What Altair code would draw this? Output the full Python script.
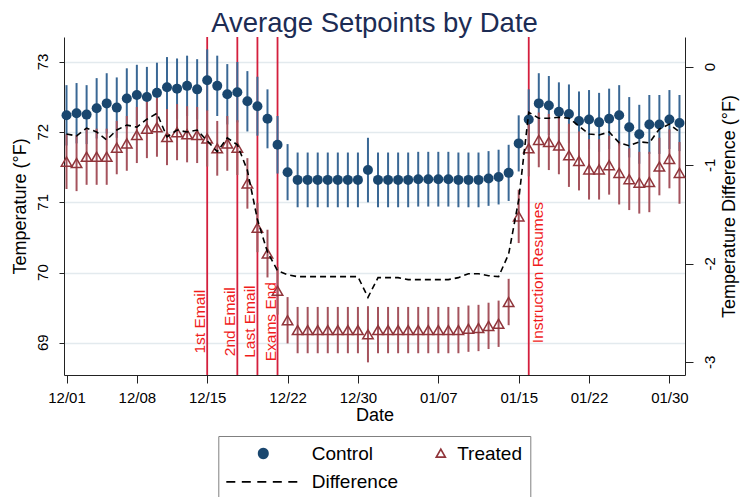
import json
import altair as alt
import pandas as pd

FONT = "Liberation Sans"

# ---------------- data ----------------
days = list(range(62))  # 0 = 12/01 ... 61 = 01/31

control_mean = [
    72.24, 72.27, 72.25, 72.34, 72.41, 72.35, 72.48, 72.53, 72.50, 72.56,
    72.64, 72.62, 72.66, 72.61, 72.74, 72.66, 72.54, 72.57, 72.44, 72.37,
    72.19, 71.82, 71.43, 71.32, 71.32, 71.32, 71.32, 71.32, 71.32, 71.32,
    71.46, 71.32, 71.32, 71.32, 71.32, 71.33, 71.33, 71.33, 71.33, 71.32,
    71.32, 71.32, 71.34, 71.36, 71.42, 71.84, 72.18, 72.41, 72.38, 72.29,
    72.26, 72.16, 72.18, 72.14, 72.19, 72.24, 72.07, 71.97, 72.11, 72.11,
    72.18, 72.13]
control_ci = [
    0.43, 0.43, 0.42, 0.43, 0.43, 0.43, 0.43, 0.43, 0.43, 0.43,
    0.43, 0.43, 0.43, 0.43, 0.44, 0.43, 0.43, 0.43, 0.43, 0.42,
    0.42, 0.41, 0.40, 0.39, 0.39, 0.39, 0.39, 0.39, 0.39, 0.39,
    0.46, 0.39, 0.39, 0.39, 0.39, 0.39, 0.39, 0.39, 0.39, 0.39,
    0.39, 0.39, 0.39, 0.39, 0.40, 0.40, 0.43, 0.43, 0.42, 0.42,
    0.42, 0.42, 0.42, 0.42, 0.43, 0.43, 0.43, 0.42, 0.42, 0.42,
    0.42, 0.40]
treated_mean = [
    71.58, 71.56, 71.65, 71.65, 71.65, 71.78, 71.84, 71.96, 72.05, 72.07,
    71.93, 72.00, 71.97, 71.96, 71.91, 71.77, 71.84, 71.78, 71.27, 70.64,
    70.27, 69.74, 69.32, 69.18, 69.18, 69.18, 69.18, 69.18, 69.18, 69.18,
    69.12, 69.18, 69.18, 69.18, 69.18, 69.18, 69.18, 69.18, 69.18, 69.18,
    69.20, 69.21, 69.24, 69.27, 69.58, 70.80, 71.77, 71.89, 71.86, 71.81,
    71.67, 71.59, 71.47, 71.47, 71.53, 71.42, 71.33, 71.28, 71.29, 71.51,
    71.62, 71.42]
treated_ci = [
    0.39, 0.40, 0.40, 0.40, 0.40, 0.38, 0.39, 0.40, 0.42, 0.42,
    0.40, 0.40, 0.40, 0.40, 0.40, 0.39, 0.39, 0.39, 0.36, 0.35,
    0.34, 0.34, 0.33, 0.33, 0.33, 0.33, 0.33, 0.33, 0.33, 0.33,
    0.40, 0.33, 0.33, 0.33, 0.33, 0.33, 0.33, 0.33, 0.33, 0.33,
    0.33, 0.33, 0.33, 0.33, 0.33, 0.38, 0.40, 0.39, 0.40, 0.41,
    0.45, 0.42, 0.43, 0.43, 0.42, 0.45, 0.44, 0.44, 0.43, 0.41,
    0.42, 0.44]
difference = [
    -0.68, -0.70, -0.62, -0.66, -0.74, -0.64, -0.59, -0.61, -0.53, -0.47,
    -0.71, -0.64, -0.66, -0.64, -0.75, -0.86, -0.72, -0.79, -1.05, -1.55,
    -1.88, -2.07, -2.11, -2.13, -2.13, -2.13, -2.13, -2.13, -2.13, -2.13,
    -2.34, -2.14, -2.14, -2.14, -2.16, -2.16, -2.16, -2.16, -2.16, -2.14,
    -2.10, -2.10, -2.12, -2.13, -1.90, -1.35, -0.46, -0.52, -0.52, -0.51,
    -0.52, -0.60, -0.68, -0.69, -0.66, -0.77, -0.80, -0.76, -0.77, -0.63,
    -0.58, -0.66]

tick_days = [0, 7, 14, 22, 29, 37, 45, 52, 60]
tick_labels = ["12/01", "12/08", "12/15", "12/22", "12/30", "01/07", "01/15", "01/22", "01/30"]

left_ticks = [69, 70, 71, 72, 73]
right_ticks = [0, -1, -2, -3]

event_days = [14, 17, 19, 21, 46]
event_labels = ["1st Email", "2nd Email", "Last Email", "Exams End", "Instruction Resumes"]
event_label_temp = [69.3, 69.3, 69.3, 69.3, 70.0]
event_side = ["left", "left", "left", "left", "right"]

series_names = ["Control", "Treated", "Difference"]

# ---------------- styles ----------------
NAVY = "#1a476f"
NAVY_BAR = "#3a6895"
MAROON = "#90353b"
MAROON_BAR = "#a5535d"
RED_LINE = "#d41f3d"
RED_TEXT = "#f01c1c"
TITLE_COL = "#1c2c54"

# legend symbols (custom paths, 6 px per unit at symbolSize 144)
circle_path = "M-1.583,0M3.667,0A0.917,0.917 0 1,0 5.5,0A0.917,0.917 0 1,0 3.667,0Z"
tri_path = "M-1.583,0M9.917,-0.717L10.667,0.617L9.167,0.617Z"
dash_path = ("M-1.583,0L-0.083,0M1,0L2.5,0M3.583,0L5.083,0"
             "M6.167,0L7.667,0M8.75,0L10.25,0")

# ---------------- tables ----------------
pts = pd.concat([
    pd.DataFrame({"day": days, "series": "Control", "mean": control_mean,
                  "lo": [m - c for m, c in zip(control_mean, control_ci)],
                  "hi": [m + c for m, c in zip(control_mean, control_ci)]}),
    pd.DataFrame({"day": days, "series": "Treated", "mean": treated_mean,
                  "lo": [m - c for m, c in zip(treated_mean, treated_ci)],
                  "hi": [m + c for m, c in zip(treated_mean, treated_ci)]}),
], ignore_index=True)
diff_df = pd.DataFrame({"day": days, "diff": difference})
events = pd.DataFrame({"day": event_days, "label": event_labels,
                       "label_temp": event_label_temp, "side": event_side})
legend_df = pd.DataFrame({"series": series_names})
left_tick_df = pd.DataFrame({"value": left_ticks, "text": [str(v) for v in left_ticks]})
right_tick_df = pd.DataFrame({"value": right_ticks, "text": [str(v) for v in right_ticks]})

# ---------------- scales / axes ----------------
XS = alt.Scale(domain=[-0.25, 61.55], nice=False, zero=False)
YL = alt.Scale(domain=[68.54, 73.356], nice=False, zero=False)
YR = alt.Scale(domain=[-3.129, 0.305], nice=False, zero=False)

label_expr = f"{json.dumps(tick_labels)}[indexof({json.dumps(tick_days)}, datum.value)]"

x_axis = alt.Axis(values=tick_days, labelExpr=label_expr, title="Date", grid=False,
                  tickSize=8, labelPadding=7.5, labelFontSize=15, labelFont=FONT,
                  labelColor="black", labelFlush=False, labelOverlap=False,
                  titleFontSize=18, titleFont=FONT, titleColor="black",
                  titleFontWeight="normal", titleY=31, titleBaseline="top",
                  domainColor="#222222", tickColor="#222222")

# tick labels of the two value axes are drawn as rotated text layers below
yl_axis = alt.Axis(orient="left", values=left_ticks, title="Temperature (°F)", grid=True,
                   gridColor="#e3eaee", gridWidth=1.3, labels=False, tickSize=5,
                   titleFontSize=18, titleFont=FONT, titleColor="black",
                   titleFontWeight="normal", titleAngle=270,
                   titleBaseline="alphabetic", titleX=-38.4,
                   domainColor="#222222", tickColor="#222222")

yr_axis = alt.Axis(orient="right", values=right_ticks,
                   title="Temperature Difference (°F)", grid=False, labels=False,
                   tickSize=8, titleFontSize=18, titleFont=FONT,
                   titleColor="black", titleFontWeight="normal", titleAngle=270,
                   titleBaseline="top", titleX=35.7,
                   domainColor="#222222", tickColor="#222222")

legend = alt.Legend(title=None, orient="none", legendX=154.3, legendY=399,
                    direction="horizontal", columns=2, gridAlign="none",
                    columnPadding=-30.5, rowPadding=8.3,
                    padding=8, strokeColor="#808080", fillColor="white",
                    cornerRadius=0, symbolSize=144, symbolStrokeWidth=1.7,
                    symbolOpacity=1, symbolFillColor="transparent",
                    symbolStrokeColor="transparent", labelFont=FONT,
                    labelFontSize=19, labelColor="black", labelOffset=66.4,
                    labelLimit=300)


def X():
    return alt.X("day:Q", scale=XS, axis=x_axis)


def YLeft(field, with_axis=False):
    return alt.Y(field, scale=YL, axis=yl_axis if with_axis else None)


def YRight(field, with_axis=False):
    return alt.Y(field, scale=YR, axis=yr_axis if with_axis else None)


# ---------------- layers ----------------
vlines = alt.Chart(events).mark_rule(color=RED_LINE, strokeWidth=1.8).encode(x=X())

bars = alt.Chart(pts).mark_rule(strokeWidth=2).encode(
    x=X(),
    y=YLeft("lo:Q", with_axis=True),
    y2="hi:Q",
    color=alt.Color("series:N", scale=alt.Scale(domain=["Control", "Treated"],
                                                range=[NAVY_BAR, MAROON_BAR]),
                    legend=None))

ctrl_pts = alt.Chart(pts).transform_filter(alt.datum.series == "Control").mark_point(
    shape="circle", filled=True, size=100, color=NAVY, opacity=1).encode(
    x=X(), y=YLeft("mean:Q"))

trt_pts = alt.Chart(pts).transform_filter(alt.datum.series == "Treated").mark_point(
    shape="triangle-up", filled=False, size=110, color=MAROON, strokeWidth=1.5,
    opacity=1).encode(x=X(), y=YLeft("mean:Q"))

txt_left = alt.Chart(events).transform_filter(alt.datum.side == "left").mark_text(
    angle=270, align="center", baseline="alphabetic", dy=-2, fontSize=15.5,
    font=FONT, color=RED_TEXT).encode(
    x=X(), y=YLeft("label_temp:Q"), text="label:N")

txt_right = alt.Chart(events).transform_filter(alt.datum.side == "right").mark_text(
    angle=270, align="center", baseline="top", dy=2, fontSize=15.5,
    font=FONT, color=RED_TEXT).encode(
    x=X(), y=YLeft("label_temp:Q"), text="label:N")

left_tick_text = alt.Chart(left_tick_df).mark_text(
    angle=270, align="center", baseline="alphabetic", fontSize=15, font=FONT,
    color="black").encode(
    x=alt.value(-16.5), y=YLeft("value:Q"), text="text:N")

legend_layer = alt.Chart(legend_df).mark_point(opacity=0, strokeWidth=1.7).encode(
    shape=alt.Shape("series:N", scale=alt.Scale(domain=series_names,
                                                range=[circle_path, tri_path, dash_path]),
                    legend=legend),
    fill=alt.Fill("series:N", scale=alt.Scale(domain=series_names,
                                              range=[NAVY, "transparent", "transparent"]),
                  legend=legend),
    stroke=alt.Stroke("series:N", scale=alt.Scale(domain=series_names,
                                                  range=["transparent", MAROON, "black"]),
                      legend=legend))

diff_line = alt.Chart(diff_df).mark_line(color="black", strokeDash=[6, 4],
                                         strokeWidth=1.6).encode(
    x=X(), y=YRight("diff:Q", with_axis=True))

right_tick_text = alt.Chart(right_tick_df).mark_text(
    angle=270, align="center", baseline="alphabetic", fontSize=15, font=FONT,
    color="black").encode(
    x=alt.value(650.5), y=YRight("value:Q"), text="text:N")

left_group = alt.layer(vlines, bars, ctrl_pts, trt_pts, txt_left, txt_right,
                       left_tick_text, legend_layer).resolve_axis(y="independent")
right_group = alt.layer(diff_line, right_tick_text).resolve_axis(y="independent")

chart = alt.layer(left_group, right_group).resolve_scale(y="independent").properties(
    width=621, height=338,
    padding={"left": 64, "top": 37, "right": 55, "bottom": 122},
    autosize=alt.AutoSizeParams(type="none"),
    title=alt.TitleParams("Average Setpoints by Date", fontSize=27.5, font=FONT,
                          color=TITLE_COL, fontWeight="normal", anchor="middle",
                          baseline="alphabetic", offset=-23),
).configure(font=FONT).configure_view(stroke=None)

chart.save("out.html", embed_options={"renderer": "svg", "actions": False})
